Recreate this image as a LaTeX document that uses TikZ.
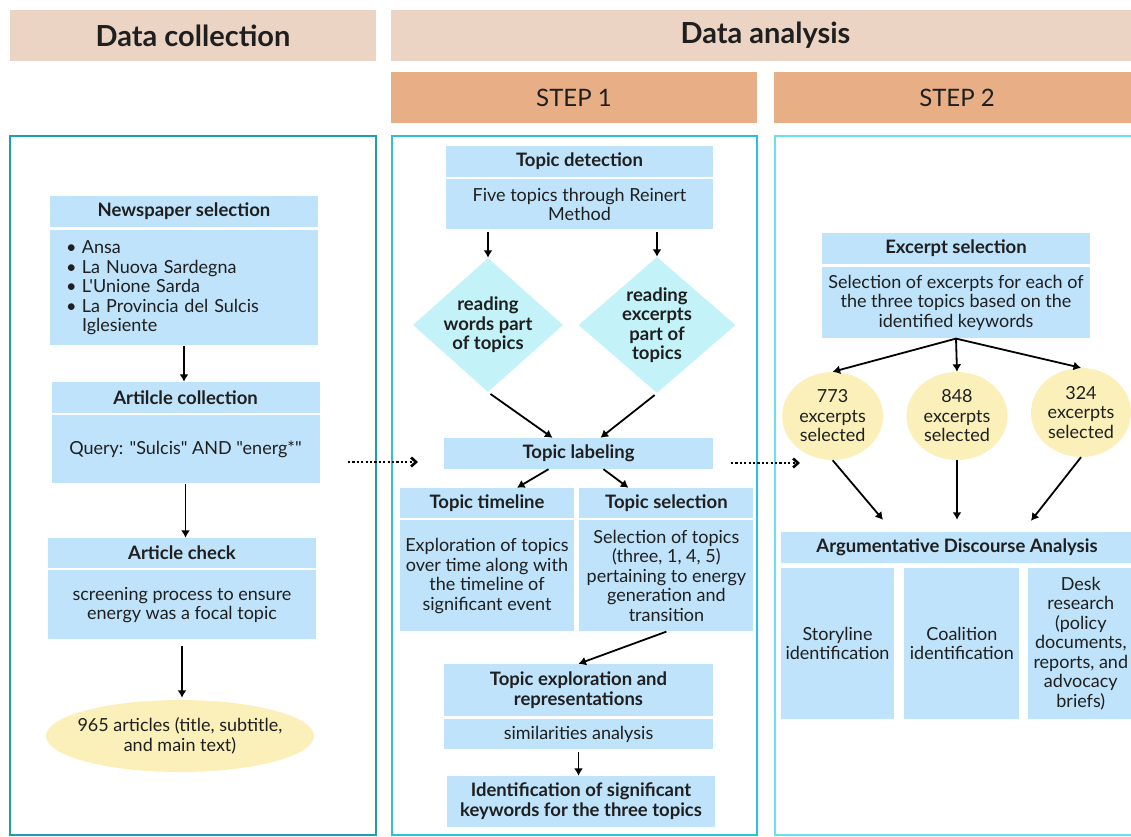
\documentclass[tikz,border=0pt]{standalone}
\usepackage{fontspec}
\setmainfont{Lato}[Ligatures=TeXOff]
\usetikzlibrary{arrows.meta, positioning, shapes.geometric}

\definecolor{peachLight}{HTML}{EBD4C4}
\definecolor{stepOrange}{HTML}{E8AF87}
\definecolor{boxBlue}{HTML}{BFE3FA}
\definecolor{diaCyan}{HTML}{C3F3F8}
\definecolor{ovalYellow}{HTML}{FBF0B9}
\definecolor{tealDark}{HTML}{1C9EB6}
\definecolor{tealMid}{HTML}{29C2DA}
\definecolor{tealLight}{HTML}{69E0EA}
\definecolor{inkDark}{HTML}{1F1F1F}

\begin{document}
\begin{tikzpicture}[x=1pt, y=-1pt, text=inkDark]
  \tikzstyle{boxTitle} = [fill=boxBlue, inner sep=0pt, minimum height=31pt, minimum width=268pt, align=center, font={\fontsize{18.5}{20}\selectfont\bfseries}]
  \tikzstyle{boxBody} = [fill=boxBlue, inner sep=0pt, minimum width=268pt, align=center, font={\fontsize{18}{19.5}\selectfont}]
  \tikzstyle{decision} = [diamond, fill=diaCyan, inner sep=0pt]
  \tikzstyle{decisionText} = [align=center, font={\fontsize{18.5}{19.5}\selectfont\bfseries}]
  \tikzstyle{outcome} = [ellipse, fill=ovalYellow, inner sep=0pt, align=center, font={\fontsize{18}{19.5}\selectfont}]
  \tikzstyle{outcomeText} = [align=center, font={\fontsize{18}{19.5}\selectfont}]
  \tikzstyle{headBar} = [fill=peachLight, minimum height=51pt, font={\fontsize{29}{32}\selectfont\bfseries}]
  \tikzstyle{stepBar} = [fill=stepOrange, minimum height=51pt, minimum width=366pt, font={\fontsize{24}{30}\selectfont}]
  \tikzstyle{panel} = [line width=2.6pt]
  \tikzstyle{flowEdge} = [black, line width=1.8pt, -{Latex[length=7.5pt,width=9pt]}]
  \tikzstyle{linkEdge} = [black, line width=2.6pt, dash pattern=on 2.2pt off 2.2pt, -{Straight Barb[length=5pt,width=9pt]}]

  \useasboundingbox (0,0) rectangle (1131,836);

  % header bars
  \node[headBar, minimum width=366pt] (hcollect) at (193,35.5) {Data collection};
  \node[headBar, minimum width=749pt] (hanalyse) at (765.5,35.5) {Data analysis};
  \node[stepBar] (stepone) at (574,97.5) {STEP 1};
  \node[stepBar] (steptwo) at (957,97.5) {STEP 2};

  % panels
  \draw[panel, draw=tealDark] (10,136) rectangle (376,835);
  \draw[panel, draw=tealMid] (392,136) rectangle (757,835);
  \draw[panel, draw=tealLight] (775,136) rectangle (1140,835);

  % data collection
  \node[boxTitle] (nstitle) at (184,211.5) {Newspaper selection};
  \node[boxBody, below=3pt of nstitle, minimum height=115pt, text width=236pt, inner xsep=16pt, align=left] (nsbody)
    {\makebox[16pt][l]{\textbullet}Ansa\\
     \makebox[16pt][l]{\textbullet}La Nuova Sardegna\\
     \makebox[16pt][l]{\textbullet}L'Unione Sarda\\
     \makebox[16pt][l]{\textbullet}La Provincia del Sulcis\\
     \makebox[16pt][l]{}Iglesiente};
  \node[boxTitle] (acttitle) at (185.5,397.5) {Artilcle collection};
  \node[boxBody, below=2pt of acttitle, minimum height=68pt] (actbody) {Query: "Sulcis" AND "energ*"};
  \node[boxTitle, minimum height=30pt] (acktitle) at (182,553) {Article check};
  \node[boxBody, below=2pt of acktitle, minimum height=69pt] (ackbody) {screening process to ensure\\energy was a focal topic};
  \node[outcome, minimum width=268pt, minimum height=72pt,
    label={[outcomeText]center:{965 articles (title, subtitle,\\and main text)}}] (artcount) at (180,736) {};

  % step 1
  \node[boxTitle, minimum width=267pt] (tdtitle) at (579.5,161.5) {Topic detection};
  \node[boxBody, minimum width=267pt, minimum height=50pt, below=2pt of tdtitle] (tdbody) {Five topics through Reinert\\Method};
  \node[decision, minimum width=150pt, minimum height=134pt,
    label={[decisionText]center:{reading\\words part\\of topics}}] (dwords) at (488,325) {};
  \node[decision, minimum width=157pt, minimum height=136pt,
    label={[decisionText]center:{reading\\excerpts\\part of\\topics}}] (dexcerpts) at (657,325) {};
  \node[boxTitle, minimum width=269pt] (tltitle) at (578.5,453.5) {Topic labeling};
  \node[boxTitle, minimum width=174pt, minimum height=30pt] (ttltitle) at (487,503) {Topic timeline};
  \node[boxBody, minimum width=174pt, minimum height=111pt, below=2pt of ttltitle] (ttlbody) {Exploration of topics\\over time along with\\the timeline of\\significant event};
  \node[boxTitle, minimum width=174pt, minimum height=30pt, right=5pt of ttltitle] (tstitle) {Topic selection};
  \node[boxBody, minimum width=174pt, minimum height=111pt, below=2pt of tstitle] (tsbody) {Selection of topics\\(three, 1, 4, 5)\\pertaining to energy\\generation and\\transition};
  \node[boxTitle, minimum width=269pt, minimum height=52pt] (tetitle) at (578.5,690) {Topic exploration and\\representations};
  \node[boxBody, minimum width=269pt, minimum height=30pt, below=3pt of tetitle] (tebody) {similarities analysis};
  \node[boxTitle, minimum height=51pt] (idbox) at (581,801.5) {Identification of significant\\keywords for the three topics};

  % step 2
  \node[boxTitle] (estitle) at (956,248.5) {Excerpt selection};
  \node[boxBody, minimum height=71pt, below=3pt of estitle] (esbody) {Selection of excerpts for each of\\the three topics based on the\\identified keywords};
  \node[outcome, minimum width=101pt, minimum height=88pt] (exc848) at (957,416) {848\\excerpts\\selected};
  \node[outcome, minimum width=101pt, minimum height=88pt, left=23pt of exc848] (exc773) {773\\excerpts\\selected};
  \node[outcome, minimum width=100pt, minimum height=89pt] (exc324) at (1081,412.5) {324\\excerpts\\selected};
  \node[boxTitle, minimum width=352pt] (adatitle) at (957,547.5) {Argumentative Discourse Analysis};
  \node[boxBody, minimum width=113pt, minimum height=151pt] (storyline) at (837.5,643.5) {Storyline\\identification};
  \node[boxBody, minimum width=115pt, minimum height=151pt, right=10pt of storyline] (coalition) {Coalition\\identification};
  \node[boxBody, minimum width=106pt, minimum height=151pt, right=8pt of coalition] (desk) {Desk\\research\\(policy\\documents,\\reports, and\\advocacy\\briefs)};

  % connectors
  \path[flowEdge]
    (nsbody.south) edge (nsbody.south |- acttitle.north)
    (actbody.south) edge (actbody.south |- acktitle.north)
    (ackbody.south) edge[shorten <=6pt, shorten >=2pt] (ackbody.south |- artcount.north)
    (dwords |- tdbody.south) edge[shorten <=2pt] (dwords.north)
    (dexcerpts |- tdbody.south) edge[shorten <=2pt] (dexcerpts.north)
    (dwords.south) edge[shorten <=3pt] ([xshift=-26pt]tltitle.north)
    (dexcerpts.south) edge[shorten <=3pt] ([xshift=22pt]tltitle.north)
    ([xshift=-30pt]tltitle.south) edge ([xshift=30pt]ttltitle.north)
    ([xshift=25pt]tltitle.south) edge ([xshift=-38pt]tstitle.north)
    (tsbody.south) edge (tetitle.north)
    (tebody.south) edge[shorten <=2pt] (tebody.south |- idbox.north)
    (esbody.south) edge (exc773.north)
    (esbody.south) edge (exc848.north)
    (esbody.south) edge (exc324.north)
    (exc773.south) edge ([xshift=-74pt, yshift=12pt]adatitle.north)
    (exc848.south) edge ([yshift=12pt]adatitle.north)
    (exc324.south) edge ([xshift=74pt, yshift=11pt]adatitle.north);

  \coordinate (gapA) at (348,462);
  \coordinate (gapB) at (418,462);
  \coordinate (gapC) at (731,463);
  \coordinate (gapD) at (800,463);
  \path[linkEdge] (gapA) edge (gapB) (gapC) edge (gapD);
\end{tikzpicture}
\end{document}
